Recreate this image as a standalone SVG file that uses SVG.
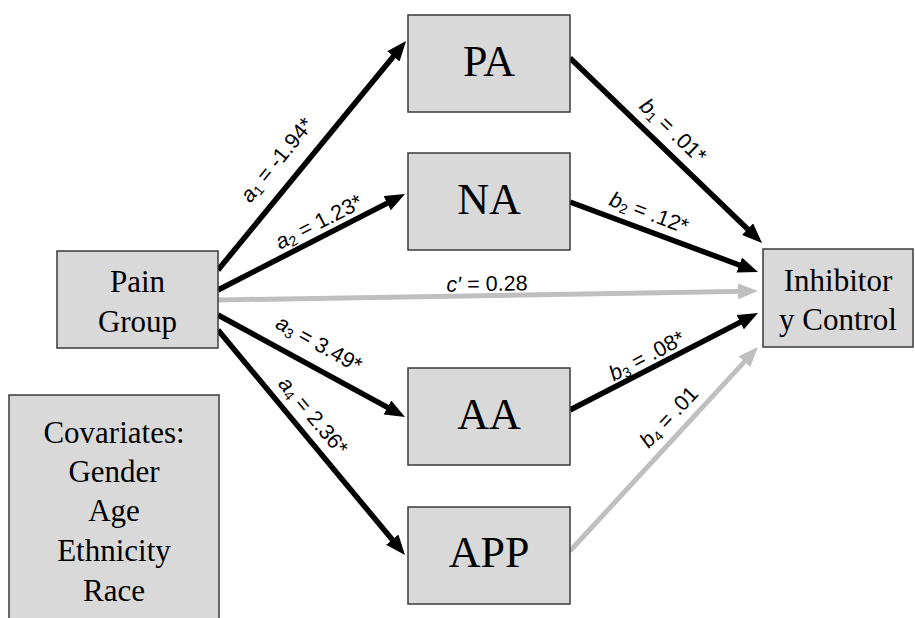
<svg xmlns="http://www.w3.org/2000/svg" width="915" height="618" viewBox="0 0 915 618">
<style>
.box{fill:#d9d9d9;stroke:#3a3a3a;stroke-width:1.5}
.big{font-family:"Liberation Serif","Times New Roman",serif;font-size:44px;fill:#000;text-anchor:middle}
.mid{font-family:"Liberation Serif","Times New Roman",serif;font-size:31px;fill:#000;text-anchor:middle}
.lbl{font-family:"Liberation Sans",Arial,sans-serif;font-size:21.5px;fill:#000;text-anchor:middle;dominant-baseline:central}
.blk{stroke:#000;stroke-width:5.5;fill:none}
.gry{stroke:#bfbfbf;stroke-width:5;fill:none}
.it{font-style:italic}
.sub{font-size:14px}
</style>
<defs>
<marker id="ab" viewBox="0 0 20 16" refX="10" refY="8" markerWidth="20" markerHeight="16" markerUnits="userSpaceOnUse" orient="auto">
<path d="M0,0 L20,8 L0,16 Z" fill="#000"/>
</marker>
<marker id="ag" viewBox="0 0 20 16" refX="10" refY="8" markerWidth="20" markerHeight="16" markerUnits="userSpaceOnUse" orient="auto">
<path d="M0,0 L20,8 L0,16 Z" fill="#bfbfbf"/>
</marker>
</defs>

<g id="connectors">
<line class="gry" x1="218" y1="300" x2="748" y2="291.2" marker-end="url(#ag)"/>
<line class="gry" x1="570" y1="551" x2="751.2" y2="354.4" marker-end="url(#ag)"/>
<line class="blk" x1="218" y1="270" x2="399.7" y2="48.7" marker-end="url(#ab)"/>
<line class="blk" x1="218" y1="290" x2="396.1" y2="198.6" marker-end="url(#ab)"/>
<line class="blk" x1="218" y1="315" x2="396.2" y2="412.2" marker-end="url(#ab)"/>
<line class="blk" x1="218" y1="330" x2="398.6" y2="547.3" marker-end="url(#ab)"/>
<line class="blk" x1="570" y1="58" x2="754.8" y2="236.1" marker-end="url(#ab)"/>
<line class="blk" x1="570" y1="202" x2="748.6" y2="268.5" marker-end="url(#ab)"/>
<line class="blk" x1="570" y1="410" x2="749.1" y2="317.6" marker-end="url(#ab)"/>

<text class="lbl" transform="translate(277,160) rotate(-50.6)"><tspan class="it">a</tspan><tspan class="sub" dy="5">1</tspan><tspan dy="-5"> = -1.94*</tspan></text>
<text class="lbl" transform="translate(319,222) rotate(-27)"><tspan class="it">a</tspan><tspan class="sub" dy="5">2</tspan><tspan dy="-5"> = 1.23*</tspan></text>
<text class="lbl" transform="translate(487,284) rotate(-0.9)"><tspan class="it">c′</tspan> = 0.28</text>
<text class="lbl" transform="translate(319,344) rotate(29)"><tspan class="it">a</tspan><tspan class="sub" dy="5">3</tspan><tspan dy="-5"> = 3.49*</tspan></text>
<text class="lbl" transform="translate(313,416) rotate(50)"><tspan class="it">a</tspan><tspan class="sub" dy="5">4</tspan><tspan dy="-5"> = 2.36*</tspan></text>
<text class="lbl" transform="translate(673,131) rotate(43.8)"><tspan class="it">b</tspan><tspan class="sub" dy="5">1</tspan><tspan dy="-5"> = .01*</tspan></text>
<text class="lbl" transform="translate(649,213) rotate(20.5)"><tspan class="it">b</tspan><tspan class="sub" dy="5">2</tspan><tspan dy="-5"> = .12*</tspan></text>
<text class="lbl" transform="translate(647,356) rotate(-28)"><tspan class="it">b</tspan><tspan class="sub" dy="5">3</tspan><tspan dy="-5"> = .08*</tspan></text>
<text class="lbl" transform="translate(669,417) rotate(-47)"><tspan class="it">b</tspan><tspan class="sub" dy="5">4</tspan><tspan dy="-5"> = .01</tspan></text>
</g>

<g id="pain">
<rect class="box" x="57" y="251" width="161" height="97"/>
<text class="mid" x="137.5" y="292">Pain</text>
<text class="mid" x="137.5" y="332">Group</text>
</g>
<g id="covariates">
<rect class="box" x="9" y="395" width="210" height="240"/>
<text class="mid" x="114" y="443">Covariates:</text>
<text class="mid" x="114" y="482">Gender</text>
<text class="mid" x="114" y="521">Age</text>
<text class="mid" x="114" y="561">Ethnicity</text>
<text class="mid" x="114" y="601">Race</text>
</g>
<g id="pa">
<rect class="box" x="408" y="15" width="162" height="97"/>
<text class="big" x="489" y="76">PA</text>
</g>
<g id="na">
<rect class="box" x="408" y="153" width="162" height="97"/>
<text class="big" x="489" y="214">NA</text>
</g>
<g id="aa">
<rect class="box" x="408" y="368" width="162" height="97"/>
<text class="big" x="489" y="429">AA</text>
</g>
<g id="app">
<rect class="box" x="408" y="507" width="162" height="97"/>
<text class="big" x="489" y="567">APP</text>
</g>
<g id="inhibitory">
<rect class="box" x="763" y="249" width="150" height="98"/>
<text class="mid" x="838" y="291">Inhibitor</text>
<text class="mid" x="838" y="330">y Control</text>
</g>
</svg>
